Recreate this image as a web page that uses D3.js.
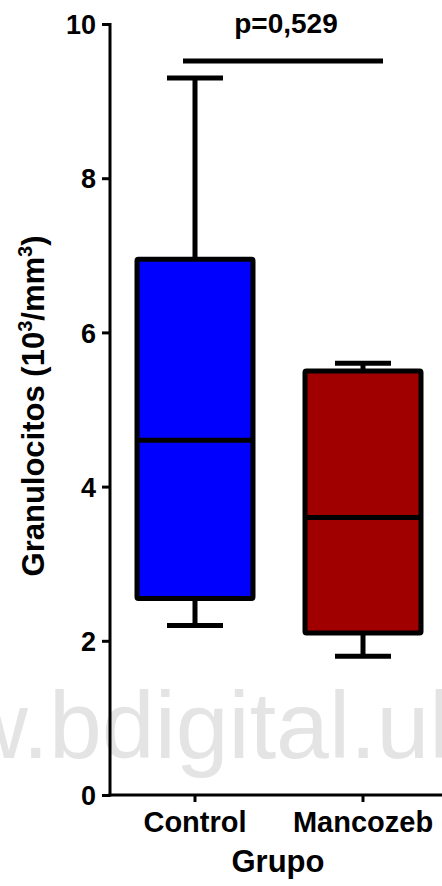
<!DOCTYPE html>
<html>
<head>
<meta charset="utf-8">
<script src="https://cdn.jsdelivr.net/npm/d3@7"></script>
<style>
  html, body { margin: 0; padding: 0; background: #fff; }
  svg { display: block; }
  text { font-family: "Liberation Sans", Arial, sans-serif; }
</style>
</head>
<body>
<svg id="chart" width="442" height="886"></svg>
<script>
// Box plot summaries (10^3/mm^3)
const groups = ["Control", "Mancozeb"];
const whiskerLow = [2.2, 1.8];
const q1 = [2.55, 2.1];
const median = [4.6, 3.6];
const q3 = [6.95, 5.5];
const whiskerHigh = [9.3, 5.6];
const boxColors = ["#0000ff", "#a00000"];
const yTicks = [0, 2, 4, 6, 8, 10];
const pLabel = "p=0,529";

const svg = d3.select("#chart");
const W = 442, H = 886;

const y = d3.scaleLinear().domain([0, 10]).range([795, 24]);
const x = d3.scaleBand().domain(groups).range([111, 447]).padding(0);
const boxW = 116, capW = 56;
const axisX = 110;

// site watermark, drawn underneath the plot
const wmFont = "'Liberation Sans', Arial, sans-serif";
const wm = svg.append("text")
  .attr("y", 758)
  .attr("fill", "#e4e4e4")
  .style("font-size", "95px")
  .style("font-family", wmFont)
  .text("www.bdigital.ula.ve");
const probe = svg.append("text").style("font-size", "95px")
  .style("font-family", wmFont).text("www.");
const preW = probe.node().getComputedTextLength();
probe.remove();
wm.attr("x", 49 - preW);

// boxes and whiskers
const data = groups.map((g, i) => ({
  g, lo: whiskerLow[i], q1: q1[i], med: median[i], q3: q3[i], hi: whiskerHigh[i], c: boxColors[i]
}));
const bx = svg.append("g").selectAll("g").data(data).join("g")
  .attr("transform", d => `translate(${x(d.g) + x.bandwidth() / 2},0)`);

bx.append("line").attr("x1", 0).attr("x2", 0)
  .attr("y1", d => y(d.hi)).attr("y2", d => y(d.q3))
  .attr("stroke", "#000").attr("stroke-width", 5);
bx.append("line").attr("x1", 0).attr("x2", 0)
  .attr("y1", d => y(d.q1)).attr("y2", d => y(d.lo))
  .attr("stroke", "#000").attr("stroke-width", 5);
bx.append("line").attr("x1", -capW / 2).attr("x2", capW / 2)
  .attr("y1", d => y(d.hi)).attr("y2", d => y(d.hi))
  .attr("stroke", "#000").attr("stroke-width", 5);
bx.append("line").attr("x1", -capW / 2).attr("x2", capW / 2)
  .attr("y1", d => y(d.lo)).attr("y2", d => y(d.lo))
  .attr("stroke", "#000").attr("stroke-width", 5);
bx.append("rect")
  .attr("x", -boxW / 2).attr("width", boxW)
  .attr("y", d => y(d.q3)).attr("height", d => y(d.q1) - y(d.q3))
  .attr("fill", d => d.c).attr("stroke", "#000").attr("stroke-width", 5)
  .attr("rx", 1.5);
bx.append("line").attr("x1", -boxW / 2).attr("x2", boxW / 2)
  .attr("y1", d => y(d.med)).attr("y2", d => y(d.med))
  .attr("stroke", "#000").attr("stroke-width", 5);

// y axis
const yAxis = svg.append("g").attr("transform", `translate(${axisX},0)`)
  .call(d3.axisLeft(y).tickValues(yTicks).tickSize(8).tickSizeOuter(0).tickPadding(6).tickFormat(d3.format("d")));
yAxis.select(".domain").attr("stroke-width", 3).attr("d", `M0,${y(10) - 1}V${y(0) + 1.5}`);
yAxis.selectAll(".tick line").attr("stroke-width", 3);
yAxis.selectAll(".tick text")
  .style("font-size", "27px").style("font-weight", "bold").attr("fill", "#000")
  .attr("dy", "0.36em");

// x axis
const xAxis = svg.append("g").attr("transform", `translate(0,${y(0)})`)
  .call(d3.axisBottom(x).tickSize(7).tickSizeOuter(0).tickPadding(10));
xAxis.select(".domain").attr("stroke-width", 3).attr("d", `M${axisX - 1.5},0H${W}`);
xAxis.selectAll(".tick line").attr("stroke-width", 3);
xAxis.selectAll(".tick text")
  .style("font-size", "29px").style("font-weight", "bold").attr("fill", "#000")
  .attr("dy", "0.69em");

// axis titles
svg.append("text")
  .attr("x", 278).attr("y", 872)
  .attr("text-anchor", "middle")
  .style("font-size", "31px").style("font-weight", "bold")
  .text("Grupo");

const yt = svg.append("text")
  .attr("transform", "translate(44,406) rotate(-90)")
  .attr("text-anchor", "middle")
  .style("font-size", "31px").style("font-weight", "bold");
yt.append("tspan").text("Granulocitos (10");
yt.append("tspan").text("3").style("font-size", "20px").attr("dy", -12);
yt.append("tspan").text("/mm").attr("dy", 12);
yt.append("tspan").text("3").style("font-size", "20px").attr("dy", -12);
yt.append("tspan").text(")").attr("dy", 12);

// significance bar
svg.append("line")
  .attr("x1", 183).attr("x2", 383).attr("y1", 61).attr("y2", 61)
  .attr("stroke", "#000").attr("stroke-width", 5);
svg.append("text")
  .attr("x", 286).attr("y", 33)
  .attr("text-anchor", "middle")
  .style("font-size", "28px").style("font-weight", "bold")
  .text(pLabel);
</script>
</body>
</html>
